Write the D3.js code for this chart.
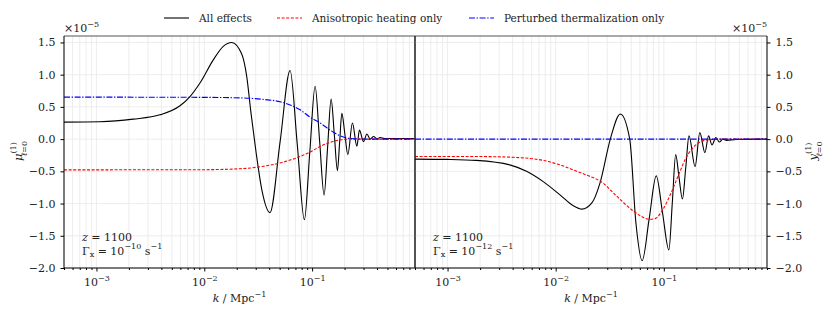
<!DOCTYPE html>
<html>
<head>
<meta charset="utf-8">
<script src="https://cdn.jsdelivr.net/npm/d3@7"></script>
<style>
  body { margin: 0; background: #fff; }
  svg { display: block; }
  text { font-family: "DejaVu Serif", "Liberation Serif", serif; fill: #222; }
</style>
</head>
<body>
<svg width="831" height="316"></svg>
<script>
// ---- data (values in units of 1e-5) ----
// left panel: mu distortion
const kMuAll = [0.0005, 0.001075, 0.00219, 0.00388, 0.00595, 0.00737, 0.00912, 0.01212, 0.0150, 0.01796,
  0.02225, 0.02476, 0.02714, 0.0302, 0.0343, 0.0407, 0.0505, 0.0625, 0.0729, 0.0848, 0.0952, 0.1066,
  0.1174, 0.1292, 0.1393, 0.1501, 0.1607, 0.1717, 0.1800, 0.1887, 0.2012, 0.2145, 0.2366, 0.2600,
  0.2749, 0.2994, 0.3220, 0.3455, 0.3708, 0.401, 0.428, 0.47, 0.9];
const muAll = [0.264, 0.27, 0.31, 0.377, 0.517, 0.66, 0.87, 1.23, 1.44, 1.50,
  1.32, 0.97, 0.4, -0.2, -0.8, -1.14, -0.04, 1.065, -0.09, -1.25, -0.2, 0.82,
  -0.03, -0.87, -0.12, 0.62, 0.07, -0.49, -0.05, 0.40, 0.08, -0.24, 0.25, -0.11,
  0.14, -0.04, 0.08, 0.0, 0.04, 0.005, 0.025, 0.01, 0.01];

const kMuHeat = [0.0005, 0.00912, 0.0214, 0.0359, 0.0505, 0.0625, 0.0774, 0.0958, 0.1186, 0.147, 0.182, 0.225, 0.9];
const muHeat = [-0.477, -0.475, -0.46, -0.42, -0.37, -0.325, -0.27, -0.2, -0.115, -0.05, -0.012, 0, 0];

const kMuTherm = [0.0005, 0.00912, 0.0214, 0.0359, 0.0505, 0.0625, 0.0774, 0.0958, 0.1186, 0.147, 0.182, 0.225, 0.311, 0.9];
const muTherm = [0.652, 0.648, 0.64, 0.615, 0.58, 0.53, 0.455, 0.34, 0.25, 0.14, 0.05, 0.01, 0, 0];

// right panel: y distortion
const kYAll = [0.0005, 0.001, 0.00184, 0.00376, 0.00537, 0.00767, 0.01096, 0.01458, 0.01746, 0.0216,
  0.0258, 0.0320, 0.0396, 0.0484, 0.0552, 0.0631, 0.0733, 0.0851, 0.0974, 0.1114, 0.1199, 0.1288,
  0.1381, 0.1486, 0.1596, 0.171, 0.1946, 0.2153, 0.2398, 0.2595, 0.2786, 0.3036, 0.326, 0.352,
  0.38, 0.466, 0.9];
const yAll = [-0.31, -0.315, -0.33, -0.40, -0.50, -0.66, -0.865, -1.035, -1.087, -0.99,
  -0.67, 0.0, 0.39, 0.0, -1.3, -1.885, -1.23, -0.57, -1.15, -1.72, -0.98, -0.24,
  -0.585, -0.93, -0.44, 0.05, -0.425, 0.10, -0.21, 0.05, -0.09, 0.025, -0.045, 0.0,
  -0.02, -0.005, 0];

const kYHeat = [0.0005, 0.00184, 0.00376, 0.00767, 0.01096, 0.01567, 0.02084, 0.0258, 0.0369, 0.0527,
  0.0743, 0.0839, 0.0974, 0.1157, 0.1373, 0.1595, 0.1976, 0.2447, 0.3376, 0.9];
const yHeat = [-0.27, -0.27, -0.28, -0.33, -0.40, -0.50, -0.58, -0.65, -0.89, -1.12,
  -1.245, -1.23, -1.1, -0.85, -0.55, -0.3, -0.09, -0.015, 0, 0];

const kYTherm = [0.0005, 0.9];
const yTherm = [0, 0];

const yTicks = [-2.0, -1.5, -1.0, -0.5, 0.0, 0.5, 1.0, 1.5];
const xMajor = [1e-3, 1e-2, 1e-1];
const legendLabels = ["All effects", "Anisotropic heating only", "Perturbed thermalization only"];

// ---- layout ----
const svg = d3.select("svg");
const yTop = 36, yBot = 268;
const kDomain = [0.0005, 0.9];
const y = d3.scaleLinear().domain([-2, 1.6]).range([yBot, yTop]);

const xMinor = [];
for (let e = -4; e <= -1; e++) for (let m = 2; m <= 9; m++) {
  const v = m * Math.pow(10, e);
  if (v >= kDomain[0] && v <= kDomain[1]) xMinor.push(v);
}

const styles = [
  {color: "#000", dash: null},
  {color: "#ff0000", dash: "3,1.6"},
  {color: "#0000ff", dash: "6,1.6,1.4,1.6"}
];

function sup(sel, base, exp, fs) {
  sel.append("tspan").text(base);
  sel.append("tspan").attr("dy", -5.5).style("font-size", (fs || 8) + "px").text(exp);
}

function panel(x0, x1, side, series, ylab, gammaExp) {
  const x = d3.scaleLog().domain(kDomain).range([x0, x1]);
  const g = svg.append("g");

  // grid
  g.append("g").selectAll("line").data(xMajor.concat(xMinor)).join("line")
    .attr("x1", d => x(d)).attr("x2", d => x(d))
    .attr("y1", yTop).attr("y2", yBot)
    .attr("stroke", "#e8e8e8").attr("stroke-width", 0.8);
  g.append("g").selectAll("line").data(yTicks).join("line")
    .attr("x1", x0).attr("x2", x1)
    .attr("y1", d => y(d)).attr("y2", d => y(d))
    .attr("stroke", "#e8e8e8").attr("stroke-width", 0.8);

  // curves
  const clip = "clip" + side;
  svg.append("clipPath").attr("id", clip).append("rect")
    .attr("x", x0).attr("y", yTop).attr("width", x1 - x0).attr("height", yBot - yTop);
  const line = d3.line().x(d => x(d[0])).y(d => y(d[1])).curve(d3.curveMonotoneX);
  series.forEach((s, i) => {
    g.append("path")
      .attr("clip-path", `url(#${clip})`)
      .attr("d", line(d3.zip(s[0], s[1])))
      .attr("fill", "none")
      .attr("stroke", styles[i].color)
      .attr("stroke-width", 1.1)
      .attr("stroke-dasharray", styles[i].dash);
  });

  // x axis
  const xa = g.append("g").attr("transform", `translate(0,${yBot})`)
    .call(d3.axisBottom(x).tickValues(xMajor).tickSize(3.5).tickFormat(""));
  xa.select(".domain").remove();
  xa.selectAll(".tick text").remove();
  xa.selectAll(".tick").each(function(d) {
    const t = d3.select(this).append("text").attr("y", 18).attr("text-anchor", "middle")
      .attr("fill", "#222").style("font-size", "11px");
    sup(t, "10", "−" + Math.round(-Math.log10(d)));
  });
  const xm = g.append("g").attr("transform", `translate(0,${yBot})`)
    .call(d3.axisBottom(x).tickValues(xMinor).tickSize(2).tickFormat(""));
  xm.select(".domain").remove();

  // y axis
  const ya = g.append("g")
    .attr("transform", `translate(${side === "left" ? x0 : x1},0)`)
    .call((side === "left" ? d3.axisLeft(y) : d3.axisRight(y))
      .tickValues(yTicks).tickSize(3.5).tickPadding(5).tickFormat(d3.format(".1f")));
  ya.select(".domain").remove();
  ya.selectAll(".tick text").style("font-size", "11px").attr("fill", "#222")
    .style("font-family", "DejaVu Serif, serif");

  // frame
  g.append("line").attr("x1", x0).attr("x2", x1).attr("y1", yTop).attr("y2", yTop)
    .attr("stroke", "#555").attr("stroke-width", 1.2);
  g.append("line").attr("x1", x0).attr("x2", x1).attr("y1", yBot).attr("y2", yBot)
    .attr("stroke", "#000").attr("stroke-width", 1);
  [x0, x1].forEach(xx => g.append("line").attr("x1", xx).attr("x2", xx)
    .attr("y1", yTop).attr("y2", yBot).attr("stroke", "#000").attr("stroke-width", 1));

  // offset text
  const off = g.append("text").attr("y", 32).style("font-size", "11px")
    .attr("x", side === "left" ? x0 : x1)
    .attr("text-anchor", side === "left" ? "start" : "end");
  sup(off, "×10", "−5");

  // x label
  const xl = g.append("text").attr("x", (x0 + x1) / 2).attr("y", 302)
    .attr("text-anchor", "middle").style("font-size", "11px");
  xl.append("tspan").style("font-style", "italic").text("k");
  xl.append("tspan").text(" / Mpc");
  xl.append("tspan").attr("dy", -5.5).style("font-size", "8px").text("−1");

  // y label (rotated)
  const lx = side === "left" ? 22 : 817;
  const yl = g.append("text").attr("transform", `translate(${lx},151) rotate(-90)`)
    .attr("text-anchor", "middle").style("font-size", "11.5px");
  yl.append("tspan").style("font-style", "italic").text(ylab);
  yl.append("tspan").attr("dy", -6.5).style("font-size", "8px").text("(1)");
  yl.append("tspan").attr("dx", -14).attr("dy", 11).style("font-size", "8px")
    .style("font-style", "italic").text("ℓ");
  yl.append("tspan").style("font-size", "8px").text("=0");

  // annotation
  const a1 = g.append("text").attr("x", x0 + 18).attr("y", 241).style("font-size", "11px");
  a1.append("tspan").style("font-style", "italic").text("z");
  a1.append("tspan").text(" = 1100");
  const a2 = g.append("text").attr("x", x0 + 18).attr("y", 254.5).style("font-size", "11px");
  a2.append("tspan").text("Γ");
  a2.append("tspan").attr("dy", 2.5).style("font-size", "8px").text("x");
  a2.append("tspan").attr("dy", -2.5).text(" = 10");
  a2.append("tspan").attr("dy", -5.5).style("font-size", "8px").text("−" + gammaExp);
  a2.append("tspan").attr("dy", 5.5).text(" s");
  a2.append("tspan").attr("dy", -5.5).style("font-size", "8px").text("−1");
}

panel(64, 415, "left", [[kMuAll, muAll], [kMuHeat, muHeat], [kMuTherm, muTherm]], "μ", "10");
panel(415, 767, "right", [[kYAll, yAll], [kYHeat, yHeat], [kYTherm, yTherm]], "y", "12");

// legend
const legX = [164, 277, 469];
const leg = svg.append("g");
legendLabels.forEach((lab, i) => {
  leg.append("line").attr("x1", legX[i]).attr("x2", legX[i] + 25).attr("y1", 18).attr("y2", 18)
    .attr("stroke", styles[i].color).attr("stroke-width", 1.1)
    .attr("stroke-dasharray", styles[i].dash);
  leg.append("text").attr("x", legX[i] + 35).attr("y", 22).style("font-size", "10.5px").text(lab);
});
</script>
</body>
</html>
